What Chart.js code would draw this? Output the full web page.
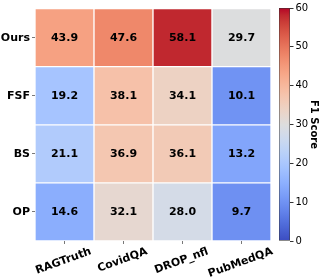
<!DOCTYPE html>
<html><head><meta charset="utf-8">
<script src="https://cdn.jsdelivr.net/npm/chart.js@4.4.1/dist/chart.umd.min.js"></script>
<style>
html,body{margin:0;padding:0;background:#fff;}
#wrap{position:relative;width:320px;height:278px;}
canvas{position:absolute;left:0;top:0;}
</style></head><body>
<div id="wrap"><canvas id="hm" width="320" height="278"></canvas><canvas id="cb" width="320" height="278"></canvas></div>
<script>
// ---- data ----
const rowLabels = ['Ours', 'FSF', 'BS', 'OP'];          // top to bottom
const colLabels = ['RAGTruth', 'CovidQA', 'DROP_nfl', 'PubMedQA'];
const oursF1 = [43.9, 47.6, 58.1, 29.7];
const fsfF1  = [19.2, 38.1, 34.1, 10.1];
const bsF1   = [21.1, 36.9, 36.1, 13.2];
const opF1   = [14.6, 32.1, 28.0, 9.7];
const colorMin = 0, colorMax = 60;
const cbTicks = [0, 10, 20, 30, 40, 50, 60];
const cbTitle = 'F1 Score';

// ---- coolwarm colormap ----
const CW = [[59,76,192],[68,90,204],[77,104,215],[87,117,225],[98,130,234],[108,142,241],[119,154,247],[130,165,251],[141,176,254],[152,185,255],[163,194,255],[174,201,253],[184,208,249],[194,213,244],[204,217,238],[213,219,230],[221,221,221],[229,216,209],[236,211,197],[241,204,185],[245,196,173],[247,187,160],[247,177,148],[247,166,135],[244,154,123],[241,141,111],[236,127,99],[229,112,88],[222,96,77],[213,80,66],[203,62,56],[192,40,47],[180,4,38]];
function coolwarm(t) {
  t = Math.max(0, Math.min(1, t));
  const p = t * (CW.length - 1), i = Math.min(CW.length - 2, Math.floor(p)), f = p - i;
  const c = CW[i].map((v, k) => Math.round(v + (CW[i + 1][k] - v) * f));
  return `rgb(${c[0]},${c[1]},${c[2]})`;
}
const norm = v => (v - colorMin) / (colorMax - colorMin);

const rowsData = [oursF1, fsfF1, bsF1, opF1];
const nRows = rowLabels.length;
const datasets = rowsData.map((vals, r) => {
  const lo = nRows - 1 - r;
  return {
    label: rowLabels[r],
    f1: vals,
    data: vals.map(() => [lo, lo + 1]),
    backgroundColor: vals.map(v => coolwarm(norm(v))),
    borderColor: '#ffffff',
    borderWidth: 1,
    borderSkipped: false,
    grouped: false,
    barPercentage: 1,
    categoryPercentage: 1
  };
});

const FONT = "'DejaVu Sans', sans-serif";

const cellText = {
  id: 'cellText',
  afterDatasetsDraw(chart) {
    const ctx = chart.ctx;
    ctx.save();
    ctx.font = `bold 11px ${FONT}`;
    ctx.fillStyle = '#000';
    ctx.textAlign = 'center';
    ctx.textBaseline = 'middle';
    chart.data.datasets.forEach((ds, d) => {
      chart.getDatasetMeta(d).data.forEach((el, i) => {
        ctx.fillText(ds.f1[i].toFixed(1), el.x, (el.y + el.base) / 2 + 0.5);
      });
    });
    ctx.restore();
  }
};

const xLabels = {
  id: 'xLabels',
  afterDraw(chart) {
    const ctx = chart.ctx, xs = chart.scales.x;
    const ang = 20 * Math.PI / 180;
    ctx.save();
    ctx.font = `bold 11px ${FONT}`;
    ctx.fillStyle = '#000';
    ctx.textAlign = 'center';
    ctx.textBaseline = 'middle';
    colLabels.forEach((lab, i) => {
      const x = xs.getPixelForTick(i);
      const w = ctx.measureText(lab).width;
      const top = chart.chartArea.bottom + 5;
      const cy = top + (w * Math.sin(ang) + 11 * Math.cos(ang)) / 2;
      ctx.save();
      ctx.translate(x - 1, cy);
      ctx.rotate(-ang);
      ctx.fillText(lab, 0, 0);
      ctx.restore();
    });
    ctx.restore();
  }
};

new Chart(document.getElementById('hm'), {
  type: 'bar',
  data: { labels: colLabels, datasets },
  options: {
    responsive: false,
    animation: false,
    events: [],
    layout: { padding: { top: 5, right: 49, left: 0, bottom: 0 } },
    plugins: { legend: { display: false }, tooltip: { enabled: false } },
    scales: {
      x: {
        offset: true,
        grid: { offset: false, drawOnChartArea: false, tickLength: 3, tickColor: '#555', tickWidth: 0.8 },
        border: { display: false },
        ticks: { display: false },
        afterFit(s) { s.height = 37; }
      },
      y: {
        min: 0, max: nRows,
        afterBuildTicks(s) { s.ticks = rowLabels.map((_, k) => ({ value: k + 0.5 })); },
        ticks: {
          callback: v => rowLabels[nRows - 1 - Math.floor(v)],
          font: { family: FONT, size: 11, weight: 'bold' },
          color: '#000',
          padding: 2
        },
        grid: { drawOnChartArea: false, tickLength: 3, tickColor: '#555', tickWidth: 0.8 },
        border: { display: false },
        afterFit(s) { s.width = 35; }
      }
    }
  },
  plugins: [cellText, xLabels]
});

// ---- colorbar ----
new Chart(document.getElementById('cb'), {
  type: 'bar',
  data: {
    labels: [''],
    datasets: [{
      data: [[colorMin, colorMax]],
      backgroundColor(c) {
        const ca = c.chart.chartArea;
        if (!ca) return '#ccc';
        const g = c.chart.ctx.createLinearGradient(0, ca.bottom, 0, ca.top);
        for (let k = 0; k <= 32; k++) g.addColorStop(k / 32, coolwarm(k / 32));
        return g;
      },
      borderColor: '#333',
      borderWidth: 0.8,
      borderSkipped: false,
      barPercentage: 1,
      categoryPercentage: 1
    }]
  },
  options: {
    responsive: false,
    animation: false,
    events: [],
    layout: { padding: { top: 5, right: 0, left: 279, bottom: 37 } },
    plugins: { legend: { display: false }, tooltip: { enabled: false } },
    scales: {
      x: { display: false },
      y: {
        position: 'right',
        min: colorMin, max: colorMax,
        afterBuildTicks(s) { s.ticks = cbTicks.map(v => ({ value: v })); },
        ticks: { font: { family: FONT, size: 10 }, color: '#000', padding: 2 },
        grid: { drawOnChartArea: false, tickLength: 3.5, tickColor: '#000', tickWidth: 0.8 },
        border: { display: false },
        title: { display: true, text: cbTitle, font: { family: FONT, size: 10, weight: 'bold' }, color: '#000', padding: { top: 0, bottom: 0 } },
        afterFit(s) { s.width = 30; }
      }
    }
  }
});
</script>
</body></html>
